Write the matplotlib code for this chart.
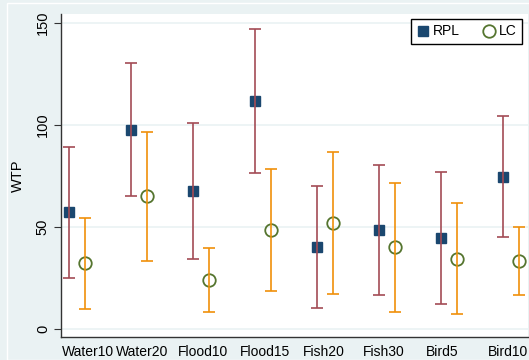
import matplotlib
matplotlib.use("Agg")
import matplotlib.pyplot as plt
import numpy as np

plt.rcParams["font.family"] = ["Liberation Sans", "DejaVu Sans"]

categories = ["Water10", "Water20", "Flood10", "Flood15", "Fish20", "Fish30", "Bird5", "Bird10"]
rpl_mean = [57.5, 97.5, 67.8, 111.9, 40.3, 48.5, 44.6, 74.5]
rpl_upper = [89.4, 130.5, 101.1, 147.2, 70.1, 80.5, 77.1, 104.4]
rpl_lower = [25.2, 65.2, 34.2, 76.3, 10.5, 16.8, 12.3, 45.0]
lc_mean = [32.2, 65.0, 24.0, 48.7, 51.8, 40.2, 34.5, 33.5]
lc_upper = [54.4, 96.6, 39.7, 78.6, 86.8, 71.7, 61.6, 50.0]
lc_lower = [10.0, 33.5, 8.2, 18.6, 17.0, 8.5, 7.4, 16.7]
label_offsets = [0.31, 0.18, 0.16, 0.16, 0.10, 0.08, 0.02, 0.08]

bg = "#eaf2f3"
navy = "#1a476f"
maroon = "#a34b55"
orange = "#f0900a"
green = "#55752f"

fig = plt.figure(figsize=(5.29, 3.6), dpi=100, facecolor=bg)
fig.patches.append(plt.Rectangle((7/529, 0), 1, 1 - 3/360, transform=fig.transFigure,
                                 fill=False, edgecolor="white", linewidth=1.0))
ax = fig.add_axes([61/529, 1 - 337/360, (528 - 61)/529, (337 - 14)/360])
ax.set_facecolor("white")

x = np.arange(len(categories))
lc_x = x + 0.26

rpl_m = np.array(rpl_mean)
lc_m = np.array(lc_mean)
ax.errorbar(x, rpl_m, yerr=[rpl_m - np.array(rpl_lower), np.array(rpl_upper) - rpl_m],
            fmt="none", ecolor=maroon, elinewidth=1.2, capsize=4, capthick=1.2, zorder=4)
ax.errorbar(lc_x, lc_m, yerr=[lc_m - np.array(lc_lower), np.array(lc_upper) - lc_m],
            fmt="none", ecolor=orange, elinewidth=1.2, capsize=4, capthick=1.2, zorder=4)
ax.plot(x, rpl_m, "s", color=navy, markersize=7, linestyle="none", label="RPL", zorder=3)
ax.plot(lc_x, lc_m, "o", markerfacecolor="none", markeredgecolor=green, markeredgewidth=1.3,
        markersize=9, linestyle="none", label="LC", zorder=3)

ax.set_xlim(-0.13, 7.4)
ax.set_ylim(-3.9, 154.4)
ax.set_yticks([0, 50, 100, 150])
ax.set_yticklabels(["0", "50", "100", "150"], rotation=90, va="center", fontsize=10.5)
ax.set_xticks(x + np.array(label_offsets))
ax.set_xticklabels(categories, fontsize=10)
ax.tick_params(axis="x", length=0, pad=6)
ax.tick_params(axis="y", length=5, width=0.8, color="#333333", pad=3)
ax.grid(axis="y", color=bg, linewidth=1.2)
ax.set_axisbelow(True)
for s in ["top", "right"]:
    ax.spines[s].set_visible(False)
for s in ["left", "bottom"]:
    ax.spines[s].set_color("#333333")
    ax.spines[s].set_linewidth(1.0)
ax.set_ylabel("WTP", fontsize=10.5, labelpad=8)

leg = ax.legend(loc="upper right", bbox_to_anchor=(0.988, 0.985), borderaxespad=0,
                ncol=2, frameon=True, fancybox=False, edgecolor="black", fontsize=10,
                handletextpad=0.3, columnspacing=1.6, handlelength=0.9, borderpad=0.4,
                framealpha=1)
leg.get_frame().set_linewidth(1.0)

fig.savefig("out.png", dpi=100, facecolor=bg)
